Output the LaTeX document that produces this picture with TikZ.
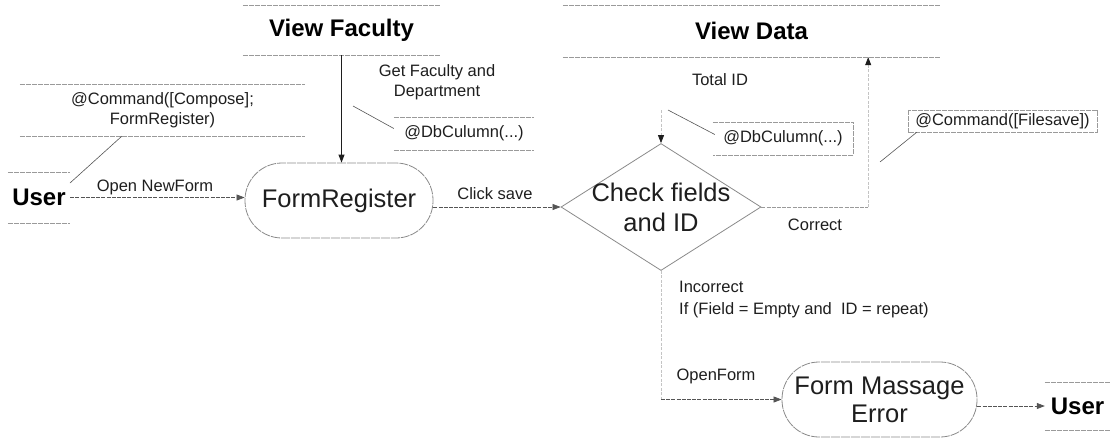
\documentclass[tikz,border=0pt]{standalone}
\usepackage{fontspec}
\setmainfont{Liberation Sans}
\usetikzlibrary{arrows.meta,shapes.geometric,calc}
\definecolor{ink}{HTML}{1E1E1E}
\definecolor{rule}{HTML}{9A9A9A}
\definecolor{conn}{HTML}{555555}
\definecolor{faint}{HTML}{C4C4C4}
\definecolor{shape}{HTML}{8A8A8A}
\begin{document}
\begin{tikzpicture}[x=1pt,y=-1pt,
  txt/.style={text=ink,inner sep=0pt,font=\fontsize{16.5}{20}\selectfont},
  big/.style={text=ink,font=\fontsize{25.5}{28}\selectfont},
  storebox/.style={text=black,inner sep=0pt,font=\bfseries\fontsize{24}{28}\selectfont},
  rl/.style={draw=rule,line width=0.6pt,dash pattern=on 5pt off 1pt},
  proc/.style={big,draw=shape,line width=0.8pt,rounded corners=37pt,minimum height=75pt,align=center,dash pattern=on 9pt off 1pt},
  callout/.style={draw=conn,line width=0.6pt},
  tip/.style={-{Triangle[length=8pt,width=6pt]}},
  darktip/.style={-{Triangle[length=8pt,width=6pt,color=ink]}},
  flow/.style={tip,draw=conn,line width=0.7pt,dash pattern=on 4pt off 1.2pt},
  solidflow/.style={tip,draw=ink,line width=0.9pt},
  faintflow/.style={darktip,draw=faint,line width=0.7pt,dash pattern=on 3pt off 1.5pt},
  faintline/.style={draw=faint,line width=0.7pt,dash pattern=on 3pt off 1.5pt}
]
\useasboundingbox (0,0) rectangle (1113,439);

% data stores
\node[storebox,minimum width=62pt,minimum height=51pt] (userL) at (39,197.5) {User};
\node[storebox,minimum width=197pt,minimum height=50pt] (vf) at (341.5,30) {View Faculty};
\node[storebox,minimum width=377pt,minimum height=52pt] (vd) at (751.5,31) {View Data};
\node[storebox,minimum width=65pt,minimum height=48pt] (userR) at (1077.5,406) {User};
\foreach \s in {userL,vf,vd,userR}{
  \draw[rl] (\s.north west) -- (\s.north east) (\s.south west) -- (\s.south east);
}

% processes
\node[proc,minimum width=188pt] (form) at (339,200.5) {FormRegister};
\node[proc,minimum width=195pt] (fme) at (879.5,399.5) {Form Massage\\Error};
\node[diamond,draw=shape,line width=0.8pt,minimum width=200pt,minimum height=127pt,inner sep=0pt,big,align=center,font=\fontsize{25.5}{30}\selectfont] (check) at (661,207)
  {\makebox[0pt]{Check fields}\\\makebox[0pt]{and ID}};

% annotations
\node[txt,align=center,minimum width=285pt,minimum height=52pt] (cmp) at (162.5,110) {@Command([Compose];\\FormRegister)};
\draw[rl] (cmp.north west) -- (cmp.north east) (cmp.south west) -- (cmp.south east);
\node[txt,minimum width=140pt,minimum height=33pt] (db1) at (464,133.5) {@DbCulumn(...)};
\draw[rl] (db1.north west) -- (db1.north east) (db1.south west) -- (db1.south east);
\node[txt,minimum width=140pt,minimum height=33pt] (db2) at (783,138.5) {@DbCulumn(...)};
\draw[rl] (db2.north west) -- (db2.north east) -- (db2.south east) -- (db2.south west);
\node[txt,minimum width=189pt,minimum height=22pt] (fs) at (1002.5,121) {@Command([Filesave])};
\draw[rl] (fs.north west) rectangle (fs.south east);

% callout lines
\coordinate (c1) at (70,183);
\coordinate (c2) at (353,106);
\coordinate (c3) at (668,110);
\coordinate (c4) at (880,162);
\draw[callout] (c1) -- ($(cmp.south west)+(102,0)$);
\draw[callout] (c2) -- ($(db1.west)+(0,-5)$);
\draw[callout] (c3) -- ($(db2.west)+(2,-4)$);
\draw[callout] (c4) -- ($(fs.south west)+(9,0)$);

% flows
\draw[flow] (userL.east) -- (userL.east -| form.west);
\draw[solidflow] (vf.south) -- (vf.south |- form.north);
\draw[flow] (form.east |- check.west) -- (check.west);
\coordinate (tid) at (check.north |- c3);
\draw[faintflow] (tid) -- (check.north);
\coordinate (cr) at ($(vd.south east)+(-72,0)$);
\draw[draw=rule,line width=0.7pt,dash pattern=on 4pt off 1.2pt] (check.east) -- (check.east -| cr);
\draw[faintflow] (check.east -| cr) -- (cr);
\draw[faintline] (check.south) -- (check.south |- fme.west);
\draw[flow] (check.south |- fme.west) -- (fme.west);
\draw[flow] (fme.east |- userR.west) -- (userR.west);

% flow labels
\node[txt] (lOpen) at (155,187) {Open NewForm};
\node[txt,align=center] (lGet) at (437,82) {Get Faculty and\\Department};
\node[txt] (lClick) at (495,194) {Click save};
\node[txt] (lTotal) at (720,80) {Total ID};
\node[txt] (lCorrect) at (815,225) {Correct};
\node[txt,anchor=west,align=left,font=\fontsize{16.5}{22}\selectfont] (lInc) at (679,300) {Incorrect\\If (Field = Empty and\ \ ID = repeat)};
\node[txt] (lOpenF) at (716,376) {OpenForm};
\end{tikzpicture}
\end{document}
